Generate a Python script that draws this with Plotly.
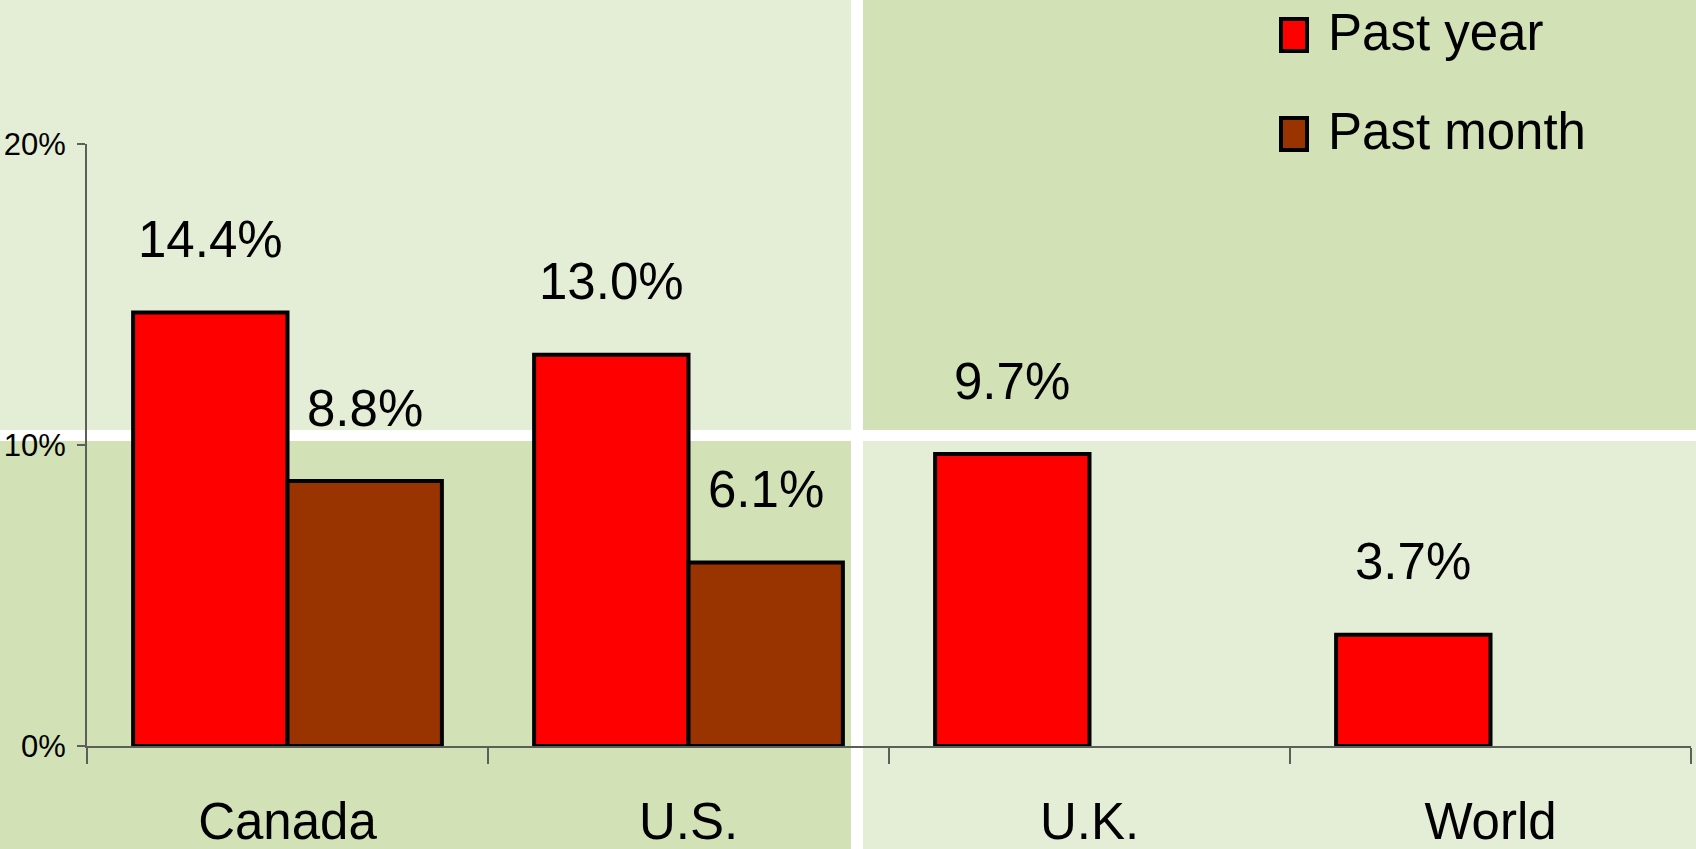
import plotly.graph_objects as go

# ---- data ----
categories = ["Canada", "U.S.", "U.K.", "World"]
past_year = [14.4, 13.0, 9.7, 3.7]
past_month = [8.8, 6.1, None, None]
series_names = ["Past year", "Past month"]
y_tickvals = [0, 10, 20]
y_ticktext = ["0%", "10%", "20%"]

# ---- styling ----
W, H = 1696, 849
L, R, T, B = 87, 5, 144, 103
PW, PH = W - L - R, H - T - B
FONT = "Liberation Sans Narrow, Arial Narrow, Liberation Sans, Arial, sans-serif"
BIG = 51
LIGHT = "#e4edd6"
DARK = "#d2e1b6"
RED = "#ff0000"
BROWN = "#993300"
AXIS = "#5a5f58"
BARGAP = 0.23


def px_x(px):
    return (px - L) / PW


def px_y(py):
    return 1 - (py - T) / PH


fig = go.Figure()
fig.add_trace(go.Bar(x=categories, y=past_year, name=series_names[0],
                     marker=dict(color=RED, line=dict(color="black", width=4)),
                     showlegend=False))
fig.add_trace(go.Bar(x=categories, y=past_month, name=series_names[1],
                     marker=dict(color=BROWN, line=dict(color="black", width=4)),
                     showlegend=False))

# value labels above bars
bw = (1 - BARGAP) / 2
annotations = []
for i, v in enumerate(past_year):
    if v is not None:
        annotations.append(dict(x=i - bw / 2, y=v, xref="x", yref="y", text=f"{v:.1f}%",
                                showarrow=False, yshift=73, yanchor="middle",
                                font=dict(size=BIG, color="black", family=FONT)))
for i, v in enumerate(past_month):
    if v is not None:
        annotations.append(dict(x=i + bw / 2, y=v, xref="x", yref="y", text=f"{v:.1f}%",
                                showarrow=False, yshift=73, yanchor="middle",
                                font=dict(size=BIG, color="black", family=FONT)))

shapes = []
# background quadrants
shapes.append(dict(type="rect", xref="paper", yref="paper", layer="below",
                   x0=px_x(857), x1=px_x(W + 5), y0=px_y(436), y1=px_y(-5),
                   fillcolor=DARK, line=dict(width=0)))
shapes.append(dict(type="rect", xref="paper", yref="paper", layer="below",
                   x0=px_x(-5), x1=px_x(857), y0=px_y(H + 5), y1=px_y(436),
                   fillcolor=DARK, line=dict(width=0)))
# white dividers
shapes.append(dict(type="rect", xref="paper", yref="paper", layer="below",
                   x0=px_x(-5), x1=px_x(W + 5), y0=px_y(441), y1=px_y(430),
                   fillcolor="white", line=dict(width=0)))
shapes.append(dict(type="rect", xref="paper", yref="paper", layer="below",
                   x0=px_x(851), x1=px_x(863), y0=px_y(H + 5), y1=px_y(-5),
                   fillcolor="white", line=dict(width=0)))

# custom legend (large swatches like the reference)
legend_colors = [RED, BROWN]
legend_ys = [35, 134]
for name, col, cy in zip(series_names, legend_colors, legend_ys):
    shapes.append(dict(type="rect", xref="paper", yref="paper", layer="above",
                       x0=px_x(1281), x1=px_x(1307), y0=px_y(cy + 16), y1=px_y(cy - 16),
                       fillcolor=col, line=dict(color="black", width=4)))
    annotations.append(dict(x=px_x(1326), y=px_y(cy - 3), xref="paper", yref="paper",
                            text=name, showarrow=False, xanchor="left", yanchor="middle",
                            font=dict(size=BIG, color="black", family=FONT)))

fig.update_layout(
    width=W, height=H,
    margin=dict(l=L, r=R, t=T, b=B, autoexpand=False),
    paper_bgcolor=LIGHT,
    plot_bgcolor="rgba(0,0,0,0)",
    barmode="group",
    bargap=BARGAP,
    bargroupgap=0,
    showlegend=False,
    font=dict(family=FONT, color="black"),
    shapes=shapes,
    annotations=annotations,
    xaxis=dict(
        type="category", automargin=False,
        showline=True, linecolor=AXIS, linewidth=2,
        ticks="outside", tickson="boundaries", ticklen=16, tickwidth=2, tickcolor=AXIS,
        tickfont=dict(size=BIG, family=FONT, color="black"),
        ticklabelstandoff=30,
        showgrid=False, zeroline=False,
    ),
    yaxis=dict(
        range=[0, 20], automargin=False,
        tickvals=y_tickvals, ticktext=y_ticktext,
        showline=True, linecolor=AXIS, linewidth=2,
        ticks="outside", ticklen=8, tickwidth=2, tickcolor=AXIS,
        tickfont=dict(size=31, family=FONT, color="black"),
        ticklabelstandoff=5,
        showgrid=False, zeroline=False,
    ),
)

fig.write_html("out.html", config={"displayModeBar": False},
               post_script="document.body.style.margin='0';")
